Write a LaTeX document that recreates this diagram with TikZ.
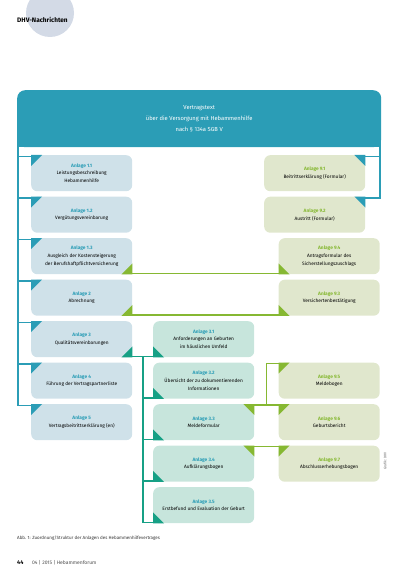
\documentclass[tikz,border=0pt]{standalone}
\usepackage{fontspec}
\setmainfont{Fira Sans}
\usetikzlibrary{calc}
\definecolor{tealc}{HTML}{2B9DB6}
\definecolor{lboxc}{HTML}{CFE1E9}
\definecolor{mboxc}{HTML}{C7E5DC}
\definecolor{rboxc}{HTML}{E0E7CD}
\definecolor{greenc}{HTML}{86B832}
\definecolor{mintc}{HTML}{16A085}
\definecolor{circc}{HTML}{D3DAE6}
\newcommand{\anl}[3]{{\color{#1}\bfseries Anlage #2}\\#3}
\tikzset{
  anbox/.style={rounded corners=6pt, minimum width=101pt, minimum height=36pt, inner sep=1pt,
    align=center, font=\fontsize{4.8}{7.8}\selectfont, anchor=north west},
  lbox/.style={anbox, fill=lboxc},
  mbox/.style={anbox, fill=mboxc},
  rbox/.style={anbox, fill=rboxc},
  tline/.style={draw=tealc, line width=1.8pt},
  gline/.style={draw=greenc, line width=1.8pt},
  mline/.style={draw=mintc, line width=1.8pt},
}
\begin{document}
\begin{tikzpicture}[x=1pt,y=-1pt]
\useasboundingbox (0,0) rectangle (413,585);
% masthead
\fill[circc] (50,13) circle (24);
\node[anchor=west, font=\bfseries\fontsize{6.5}{7}\selectfont, inner sep=0] (mast) at (17,20) {DHV-Nachrichten};
% header
\fill[tealc] (17,118) rectangle (381,147);
\node[fill=tealc, rounded corners=8pt, minimum width=364pt, minimum height=57pt, anchor=north west,
  inner sep=0, text=white, align=center, font=\fontsize{5.8}{11}\selectfont] (hdr) at (17,90)
  {Vertragstext\\über die Versorgung mit Hebammenhilfe\\nach § 134a SGB V};
\coordinate (LL) at (17.9,140);
\coordinate (RR) at (380.1,140);
% left column
\node[lbox] (a11) at (31,155) {\anl{tealc}{1.1}{Leistungsbeschreibung\\Hebammenhilfe}};
\node[lbox] (a12) at (31,196.5) {\anl{tealc}{1.2}{Vergütungsvereinbarung}};
\node[lbox] (a13) at (31,238) {\anl{tealc}{1.3}{Ausgleich der Kostensteigerung\\der Berufshaftpflichtversicherung}};
\node[lbox] (a2) at (31,279.5) {\anl{tealc}{2}{Abrechnung}};
\node[lbox] (a3) at (31,321) {\anl{tealc}{3}{Qualitätsvereinbarungen}};
\node[lbox] (a4) at (31,362.5) {\anl{tealc}{4}{Führung der Vertragspartnerliste}};
\node[lbox] (a5) at (31,404) {\anl{tealc}{5}{Vertragsbeitrittserklärung (en)}};
% middle column
\node[mbox] (a31) at (153,321) {\anl{tealc}{3.1}{Anforderungen an Geburten\\im häuslichen Umfeld}};
\node[mbox] (a32) at (153,362.5) {\anl{tealc}{3.2}{Übersicht der zu dokumentierenden\\Informationen}};
\node[mbox] (a33) at (153,404) {\anl{tealc}{3.3}{Meldeformular}};
\node[mbox] (a34) at (153,445.5) {\anl{tealc}{3.4}{Aufklärungsbogen}};
\node[mbox] (a35) at (153,487) {\anl{tealc}{3.5}{Erstbefund und Evaluation der Geburt}};
% right column
\node[rbox] (a91) at (264,155) {\anl{greenc}{9.1}{Beitrittserklärung (Formular)}};
\node[rbox] (a92) at (264,196.5) {\anl{greenc}{9.2}{Austritt (Formular)}};
\node[rbox] (a94) at (278.5,238) {\anl{greenc}{9.4}{Antragsformular des\\Sicherstellungszuschlags}};
\node[rbox] (a93) at (278.5,279.5) {\anl{greenc}{9.3}{Versichertenbestätigung}};
\node[rbox] (a95) at (278.5,362.5) {\anl{greenc}{9.5}{Meldebogen}};
\node[rbox] (a96) at (278.5,404) {\anl{greenc}{9.6}{Geburtsbericht}};
\node[rbox] (a97) at (278.5,445.5) {\anl{greenc}{9.7}{Abschlusserhebungsbogen}};
% teal connectors left
\foreach \n in {a11,a12,a13,a2,a3,a4,a5}{
  \draw[tline] (LL) |- ($(\n.north west)+(0,1.5)$);
  \fill[tealc] (\n.north west) -- ++(11,0) -- ++(-11,11) -- cycle;
}
% teal connectors right
\foreach \n in {a91,a92}{
  \draw[tline] (RR) |- ($(\n.north east)+(0,1.5)$);
  \fill[tealc] (\n.north east) -- ++(-11,0) -- ++(11,11) -- cycle;
}
% green connectors 1.3 / 2
\draw[gline] ($(a13.south east)+(0,-1)$) -- ($(a94.south west)+(0,-1)$);
\draw[gline] ($(a2.south east)+(0,-1)$) -- ($(a93.south west)+(0,-1)$);
\foreach \n in {a13,a2}{\fill[greenc] (\n.south east) -- ++(-11,0) -- ++(11,-11) -- cycle;}
\foreach \n in {a94,a93}{\fill[greenc] (\n.south west) -- ++(11,0) -- ++(-11,-11) -- cycle;}
% mint connectors (Anlage 3)
\coordinate (M) at ($($(a3.south east)!0.5!(a31.south west)$)+(0,-1)$);
\draw[mline] ($(a3.south east)+(0,-1)$) -- ($(a31.south west)+(0,-1)$);
\foreach \n in {a32,a33,a34,a35}{\draw[mline] (M) |- ($(\n.south west)+(0,-1)$);}
\fill[mintc] (a3.south east) -- ++(-11,0) -- ++(11,-11) -- cycle;
\foreach \n in {a31,a32,a33,a34,a35}{\fill[mintc] (\n.south west) -- ++(11,0) -- ++(-11,-11) -- cycle;}
% green connectors 3.3 / 3.4
\coordinate (G) at ($($(a33.north east)!0.5!(a96.north west)$)+(0,1)$);
\draw[gline] ($(a33.north east)+(0,1)$) -- ($(a96.north west)+(0,1)$);
\draw[gline] (G) |- ($(a95.north west)+(0,1)$);
\draw[gline] ($(a34.north east)+(0,1)$) -- ($(a97.north west)+(0,1)$);
\foreach \n in {a33,a34}{\fill[greenc] (\n.north east) -- ++(-11,0) -- ++(11,11) -- cycle;}
\foreach \n in {a95,a96,a97}{\fill[greenc] (\n.north west) -- ++(11,0) -- ++(-11,11) -- cycle;}
% credit, caption, footer
\node[rotate=90, font=\fontsize{3.5}{4}\selectfont, text=black!60, inner sep=0] (cred) at (385,461) {Grafik: DHV};
\node[anchor=west, font=\fontsize{4.5}{5}\selectfont, text=black!80, inner sep=0] (cap) at (17,538) {Abb. 1: Zuordnung/Struktur der Anlagen des Hebammenhilfevertrages};
\node[anchor=west, font=\bfseries\fontsize{5.5}{6}\selectfont, inner sep=0] (pg) at (17,563) {44};
\node[anchor=west, font=\fontsize{5}{6}\selectfont, text=black!70, inner sep=0] (ft) at (32,563) {04 | 2015 | Hebammenforum};
\end{tikzpicture}
\end{document}
